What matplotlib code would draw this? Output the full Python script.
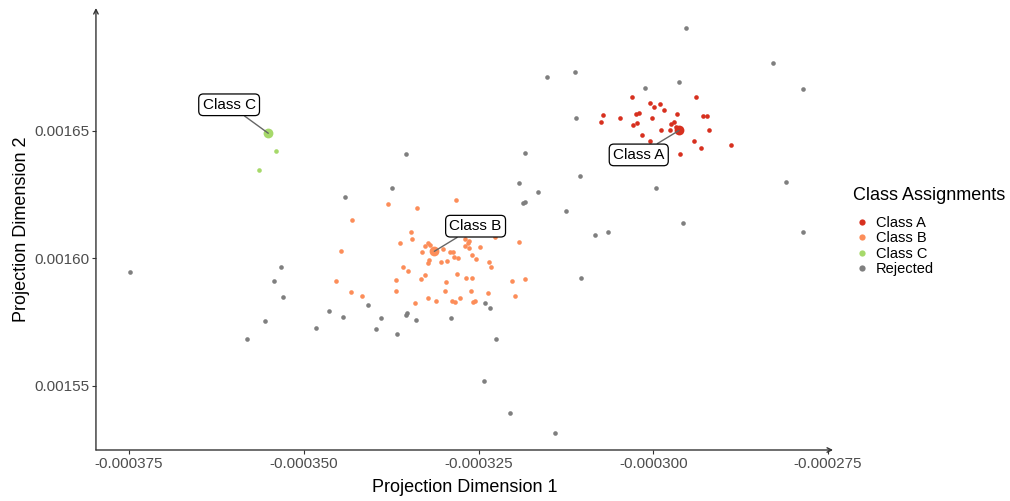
import numpy as np
import matplotlib
matplotlib.use('Agg')
import matplotlib.pyplot as plt
from matplotlib.lines import Line2D

plt.rcParams['font.family'] = ['Liberation Sans', 'DejaVu Sans']

# Datos: puntos por clase (coordenadas de proyeccion)
class_a_x = [-303.04e-6, -293.84e-6, -300.47e-6, -299.06e-6, -299.85e-6, -298.46e-6,
             -307.26e-6, -307.48e-6, -304.76e-6, -302.43e-6, -302.04e-6, -300.14e-6,
             -296.65e-6, -292.93e-6, -292.35e-6, -302.90e-6, -302.33e-6, -297.03e-6,
             -297.46e-6, -298.93e-6, -297.60e-6, -296.82e-6, -292.07e-6, -301.61e-6,
             -300.47e-6, -294.21e-6, -293.17e-6, -288.92e-6, -296.22e-6]
class_a_y = [1663.2e-6, 1663.4e-6, 1660.9e-6, 1660.5e-6, 1659.3e-6, 1658.2e-6,
             1656.3e-6, 1653.6e-6, 1654.9e-6, 1656.7e-6, 1656.9e-6, 1654.9e-6,
             1656.4e-6, 1655.9e-6, 1655.7e-6, 1652.1e-6, 1653.0e-6, 1653.5e-6,
             1652.6e-6, 1650.3e-6, 1650.4e-6, 1651.3e-6, 1650.2e-6, 1648.2e-6,
             1646.0e-6, 1646.1e-6, 1643.1e-6, 1644.3e-6, 1640.8e-6]

class_b_x = [-337.90e-6, -333.84e-6, -328.15e-6, -343.10e-6, -334.70e-6, -336.19e-6,
             -334.51e-6, -344.60e-6, -332.27e-6, -332.65e-6, -331.87e-6, -333.08e-6,
             -330.04e-6, -329.08e-6, -328.58e-6, -328.46e-6, -327.93e-6, -332.15e-6,
             -332.23e-6, -330.37e-6, -329.55e-6, -326.93e-6, -326.43e-6, -326.50e-6,
             -327.00e-6, -326.39e-6, -324.79e-6, -322.60e-6, -319.21e-6, -325.89e-6,
             -325.36e-6, -323.54e-6, -323.21e-6, -335.84e-6, -335.13e-6, -328.08e-6,
             -332.63e-6, -333.27e-6, -336.80e-6, -329.72e-6, -326.83e-6, -325.89e-6,
             -320.18e-6, -318.39e-6, -345.32e-6, -343.24e-6, -341.71e-6, -336.80e-6,
             -329.75e-6, -326.12e-6, -323.68e-6, -319.78e-6, -334.13e-6, -332.23e-6,
             -331.04e-6, -328.76e-6, -328.43e-6, -327.72e-6, -325.86e-6, -325.50e-6]
class_b_y = [1621.4e-6, 1619.8e-6, 1622.8e-6, 1615.0e-6, 1610.3e-6, 1606.0e-6,
             1607.4e-6, 1602.8e-6, 1605.8e-6, 1604.9e-6, 1605.0e-6, 1602.6e-6,
             1603.7e-6, 1602.4e-6, 1602.5e-6, 1600.5e-6, 1599.9e-6, 1599.3e-6,
             1598.0e-6, 1598.4e-6, 1598.9e-6, 1607.7e-6, 1606.9e-6, 1605.8e-6,
             1604.7e-6, 1604.1e-6, 1604.4e-6, 1608.4e-6, 1606.4e-6, 1601.4e-6,
             1599.8e-6, 1598.7e-6, 1596.5e-6, 1596.5e-6, 1595.0e-6, 1594.0e-6,
             1593.3e-6, 1591.8e-6, 1591.5e-6, 1590.8e-6, 1592.1e-6, 1592.4e-6,
             1591.1e-6, 1591.8e-6, 1590.9e-6, 1586.8e-6, 1585.3e-6, 1587.1e-6,
             1587.1e-6, 1587.1e-6, 1586.4e-6, 1585.3e-6, 1582.6e-6, 1584.4e-6,
             1583.2e-6, 1583.3e-6, 1582.7e-6, 1584.4e-6, 1582.9e-6, 1583.2e-6]

class_c_x = [-353.93e-6, -356.45e-6]
class_c_y = [1641.9e-6, 1634.7e-6]

rejected_x = [-295.32e-6, -282.91e-6, -278.58e-6, -296.36e-6, -301.18e-6, -315.20e-6,
              -311.24e-6, -311.10e-6, -335.42e-6, -318.39e-6, -281.05e-6, -299.56e-6,
              -310.52e-6, -319.21e-6, -316.52e-6, -318.39e-6, -318.57e-6, -312.53e-6,
              -337.33e-6, -344.03e-6, -295.79e-6, -306.43e-6, -278.53e-6, -308.41e-6,
              -310.29e-6, -374.90e-6, -353.25e-6, -354.21e-6, -352.97e-6, -346.35e-6,
              -344.39e-6, -355.59e-6, -348.20e-6, -358.12e-6, -340.77e-6, -338.95e-6,
              -339.62e-6, -336.66e-6, -335.27e-6, -335.44e-6, -333.98e-6, -328.93e-6,
              -324.07e-6, -323.40e-6, -322.57e-6, -324.26e-6, -320.54e-6, -314.01e-6]
rejected_y = [1690.2e-6, 1676.7e-6, 1666.5e-6, 1669.0e-6, 1666.7e-6, 1670.9e-6,
              1673.0e-6, 1654.9e-6, 1640.7e-6, 1641.3e-6, 1629.9e-6, 1627.7e-6,
              1632.4e-6, 1629.3e-6, 1626.0e-6, 1621.9e-6, 1621.6e-6, 1618.5e-6,
              1627.7e-6, 1624.0e-6, 1613.8e-6, 1610.4e-6, 1610.3e-6, 1609.0e-6,
              1592.2e-6, 1594.6e-6, 1596.7e-6, 1591.1e-6, 1584.8e-6, 1579.4e-6,
              1576.9e-6, 1575.4e-6, 1572.7e-6, 1568.3e-6, 1581.6e-6, 1576.4e-6,
              1572.1e-6, 1570.2e-6, 1578.7e-6, 1577.6e-6, 1575.9e-6, 1576.5e-6,
              1582.3e-6, 1580.6e-6, 1568.5e-6, 1552.0e-6, 1539.3e-6, 1531.6e-6]

# Centroides de cada clase (puntos grandes con etiqueta)
centroid_names = ['Class A', 'Class B', 'Class C']
centroid_x = [-296.32e-6, -331.32e-6, -355.07e-6]
centroid_y = [1650.1e-6, 1602.7e-6, 1649.0e-6]

xticks = [-0.000375, -0.000350, -0.000325, -0.000300, -0.000275]
xtick_labels = ['-0.000375', '-0.000350', '-0.000325', '-0.000300', '-0.000275']
yticks = [0.00155, 0.00160, 0.00165]
ytick_labels = ['0.00155', '0.00160', '0.00165']

colors = {'Class A': '#D7301F', 'Class B': '#FC8D59', 'Class C': '#A6D96A',
          'Rejected': '#7F7F7F'}

fig = plt.figure(figsize=(10.10, 5.01), dpi=100)
ax = fig.add_axes([0.095, 0.1018, 0.7298, 0.8822])

ax.scatter(rejected_x, rejected_y, s=11, color=colors['Rejected'], linewidths=0)
ax.scatter(class_a_x, class_a_y, s=11, color=colors['Class A'], linewidths=0)
ax.scatter(class_b_x, class_b_y, s=11, color=colors['Class B'], linewidths=0)
ax.scatter(class_c_x, class_c_y, s=11, color=colors['Class C'], linewidths=0)

# Etiquetas de los centroides (offsets en puntos)
offsets = [(-29, -17.6), (29.7, 18.1), (-28.2, 20.5)]
for name, cx, cy, off in zip(centroid_names, centroid_x, centroid_y, offsets):
    ax.scatter([cx], [cy], s=50, color=colors[name], linewidths=0, zorder=3)
    ax.annotate(name, xy=(cx, cy), xytext=off, textcoords='offset points',
                ha='center', va='center', fontsize=11, color='black', zorder=4,
                bbox=dict(boxstyle='round,pad=0.25,rounding_size=0.3',
                          fc='white', ec='black', lw=0.9),
                arrowprops=dict(arrowstyle='-', color='#666666', lw=1,
                                shrinkA=0, shrinkB=0))

ax.set_xlim(-0.00037972, -0.00027429)
ax.set_ylim(0.00152478, 0.00169812)
ax.set_xticks(xticks)
ax.set_xticklabels(xtick_labels)
ax.set_yticks(yticks)
ax.set_yticklabels(ytick_labels)
ax.tick_params(axis='both', which='major', length=3, width=0.8, color='#333333',
               labelsize=11, labelcolor='#4D4D4D', pad=2)
ax.set_xlabel('Projection Dimension 1', fontsize=13, labelpad=6)
ax.set_ylabel('Projection Dimension 2', fontsize=13, labelpad=2.5)

for sp in ax.spines.values():
    sp.set_visible(False)
# ejes con flecha
ax.annotate('', xy=(1, 0), xytext=(0, 0), xycoords='axes fraction',
            arrowprops=dict(arrowstyle='->', color='#333333', lw=1,
                            shrinkA=0, shrinkB=0, mutation_scale=8))
ax.annotate('', xy=(0, 1), xytext=(0, 0), xycoords='axes fraction',
            arrowprops=dict(arrowstyle='->', color='#333333', lw=1,
                            shrinkA=0, shrinkB=0, mutation_scale=8))

# Leyenda: titulo aparte y entradas
fig.text(853 / 1010, 1 - 196 / 501, 'Class Assignments', fontsize=13,
         ha='left', va='center')
handles = [Line2D([], [], marker='o', linestyle='', markersize=4.5,
                  markeredgewidth=0, color=colors[k], label=k)
           for k in ['Class A', 'Class B', 'Class C', 'Rejected']]
leg = fig.legend(handles=handles, loc='upper left',
                 bbox_to_anchor=(847 / 1010, 1 - 210 / 501), frameon=False,
                 fontsize=10.5, labelspacing=0.1,
                 handletextpad=0.4, handlelength=1.2, borderaxespad=0)

fig.savefig('out.png', dpi=100)
